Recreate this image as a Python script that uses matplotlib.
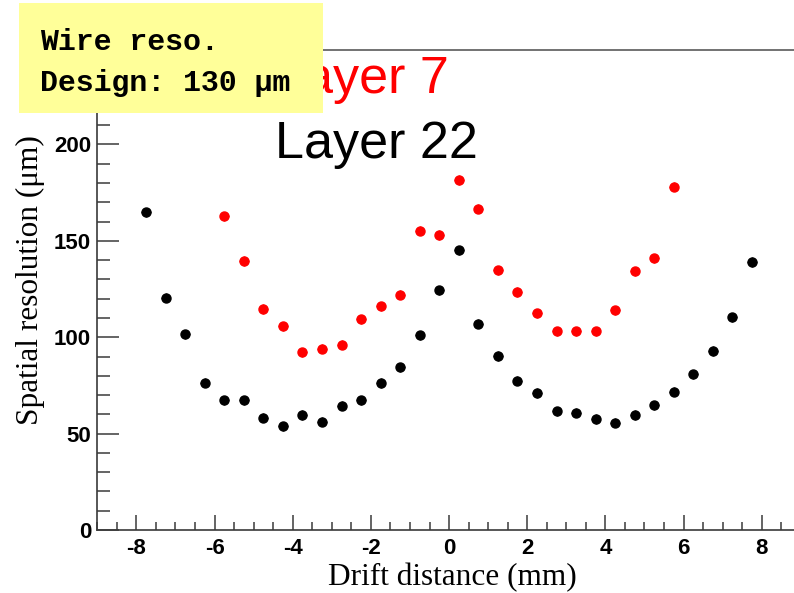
import matplotlib.pyplot as plt
import numpy as np
from matplotlib.patches import Rectangle
from matplotlib.ticker import MultipleLocator

# drift distance bins (mm) and measured resolution (um)
x_layer22 = [-7.75, -7.25, -6.75, -6.25, -5.75, -5.25, -4.75, -4.25,
             -3.75, -3.25, -2.75, -2.25, -1.75, -1.25, -0.75, -0.25,
             0.25, 0.75, 1.25, 1.75, 2.25, 2.75, 3.25, 3.75,
             4.25, 4.75, 5.25, 5.75, 6.25, 6.75, 7.25, 7.75]
res_layer22 = [164.8, 120.6, 101.6, 76.5, 67.2, 67.2, 58.3, 53.7,
               59.7, 56.2, 64.4, 67.2, 76.2, 84.3, 101.0, 124.3,
               145.0, 107.1, 90.2, 77.4, 71.1, 61.6, 60.9, 57.6,
               55.6, 59.7, 64.6, 71.8, 80.7, 92.9, 110.4, 139.0]

x_layer7 = [-5.75, -5.25, -4.75, -4.25, -3.75, -3.25, -2.75, -2.25,
            -1.75, -1.25, -0.75, -0.25, 0.25, 0.75, 1.25, 1.75,
            2.25, 2.75, 3.25, 3.75, 4.25, 4.75, 5.25, 5.75]
res_layer7 = [162.7, 139.5, 114.6, 105.6, 92.1, 94.0, 96.2, 109.2,
              116.0, 122.0, 155.2, 153.0, 181.5, 166.7, 134.8, 123.4,
              112.5, 103.0, 103.0, 103.0, 113.9, 134.1, 140.9, 178.1]

# tick labels: bold sans with plain hyphen minus
plt.rcParams['font.family'] = 'Liberation Sans'
plt.rcParams['font.weight'] = 'bold'
plt.rcParams['axes.unicode_minus'] = False

W, H = 794, 593
fig = plt.figure(figsize=(W / 100, H / 100), dpi=100)

# axes frame runs a little past the right edge of the canvas
ax = fig.add_axes([97.3 / W, 63 / H, 703.5 / W, 480 / H])

for xs, ys, col in [(x_layer22, res_layer22, 'black'), (x_layer7, res_layer7, 'red')]:
    ax.errorbar(xs, ys, xerr=0.12, yerr=2.4, fmt='o', color=col, ms=6.5,
                elinewidth=1.0, capsize=0, mec=col, clip_on=False)

ax.set_xlim(-9, 9)
ax.set_ylim(0, 249)

ax.xaxis.set_major_locator(MultipleLocator(2))
ax.xaxis.set_minor_locator(MultipleLocator(0.5))
ax.yaxis.set_major_locator(MultipleLocator(50))
ax.yaxis.set_minor_locator(MultipleLocator(10))

spine_col = '#3a3a3a'
for side in ['left', 'bottom', 'top', 'right']:
    ax.spines[side].set_color(spine_col)
    ax.spines[side].set_linewidth(1.2)
ax.spines['top'].set_color('#5a5a5a')

ax.tick_params(axis='x', which='major', direction='in', length=10.8, width=1.1,
               color=spine_col, pad=6, labelsize=16)
ax.tick_params(axis='x', which='minor', direction='in', length=5.8, width=1.1,
               color=spine_col)
ax.tick_params(axis='y', which='major', direction='in', length=15.6, width=1.1,
               color=spine_col, pad=4.5, labelsize=16)
ax.tick_params(axis='y', which='minor', direction='in', length=9.1, width=1.1,
               color=spine_col)
ax.tick_params(top=False, right=False)

# axis titles in serif, placed in figure coordinates
fig.text(452 / W, 1 - 585 / H, 'Drift distance (mm)', family='Liberation Serif',
         weight='normal', fontsize=22.5, ha='center', va='baseline')
fig.text(30 / W, 1 - 425 / H, 'Spatial resolution (\u03bcm)', family='Liberation Serif',
         weight='normal', fontsize=22.5, rotation=90, ha='center', va='bottom')

# layer labels
fig.text(275 / W, 1 - 93 / H, 'Layer 7', color='red', family='Liberation Sans',
         weight='normal', fontsize=37.5, ha='left', va='baseline')
fig.text(275 / W, 1 - 158 / H, 'Layer 22', color='black', family='Liberation Sans',
         weight='normal', fontsize=37.5, ha='left', va='baseline')

# note box
fig.patches.append(Rectangle((19 / W, 1 - 113 / H), 304 / W, 110 / H,
                             transform=fig.transFigure, facecolor='#ffff99',
                             edgecolor='none', zorder=10))
fig.text(40 / W, 1 - 50 / H, 'Wire reso.', family='Liberation Mono',
         weight='bold', fontsize=21.5, ha='left', va='baseline', zorder=11)
fig.text(40 / W, 1 - 91 / H, 'Design: 130 \u03bcm', family='Liberation Mono',
         weight='bold', fontsize=21.5, ha='left', va='baseline', zorder=11)

fig.savefig('out.png', dpi=100)
